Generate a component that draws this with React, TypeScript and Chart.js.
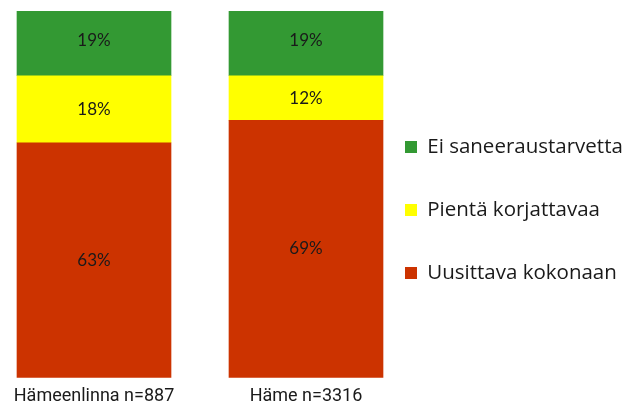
import React, { useEffect, useRef } from "react";
import { Chart, registerables } from "chart.js";

Chart.register(...registerables);

const categories = ["Hämeenlinna n=887", "Häme n=3316"];
const seriesNames = ["Uusittava kokonaan", "Pientä korjattavaa", "Ei saneeraustarvetta"];
const uusittava = [63, 69];
const pienta = [18, 12];
const eiSaneeraus = [19, 19];
const seriesColors = ["#CC3300", "#FFFF00", "#339933"];

const LEGEND_FONT = { family: "Open Sans", size: 20.5 };
const LEGEND_PAD = 42.5;
const LEGEND_BOX = 12;

const dataLabelPlugin = {
  id: "segmentLabels",
  afterDatasetsDraw(chart: any) {
    const ctx = chart.ctx;
    ctx.save();
    ctx.font = "17px Lato";
    ctx.fillStyle = "#1a1a1a";
    ctx.textAlign = "center";
    ctx.textBaseline = "middle";
    chart.data.datasets.forEach((ds: any, di: number) => {
      const meta = chart.getDatasetMeta(di);
      meta.data.forEach((el: any, i: number) => {
        const { x, y, base } = el.getProps(["x", "y", "base"], true);
        ctx.fillText(`${ds.data[i].y}%`, x, (y + base) / 2);
      });
    });
    ctx.restore();
  },
};

export default function App() {
  const ref = useRef<HTMLCanvasElement>(null);
  useEffect(() => {
    document.body.style.margin = "0";
    const canvas = ref.current as HTMLCanvasElement;
    const mctx = canvas.getContext("2d") as CanvasRenderingContext2D;
    mctx.font = `${LEGEND_FONT.size}px ${LEGEND_FONT.family}`;
    const textW = Math.max(...seriesNames.map((n) => mctx.measureText(n).width));
    const legendW = LEGEND_PAD + LEGEND_BOX + LEGEND_FONT.size / 2 + textW + 10;
    const legendLeft = 362.5;
    const padRight = 638 - legendLeft - legendW;

    const values = [uusittava, pienta, eiSaneeraus];
    const chart = new Chart(canvas, {
      type: "bar",
      data: {
        datasets: seriesNames.map((name, s) => ({
          label: name,
          data: values[s].map((v, i) => ({ x: i, y: v })),
          backgroundColor: seriesColors[s],
          borderWidth: 0,
          barThickness: 154,
          clip: { left: false, right: false, top: -6, bottom: false },
        })),
      },
      options: {
        animation: false,
        responsive: false,
        devicePixelRatio: 1,
        layout: { padding: { top: 5, bottom: -5.1, left: 0, right: padRight } },
        scales: {
          x: {
            type: "linear",
            stacked: true,
            offset: false,
            bounds: "data",
            min: -0.4434,
            max: 1.2665,
            afterBuildTicks: (scale: any) => {
              scale.ticks = categories.map((_, i) => ({ value: i }));
            },
            grid: { display: false, drawTicks: false, offset: false },
            border: { display: false },
            ticks: {
              autoSkip: false,
              maxRotation: 0,
              padding: 8.1,
              color: "#1a1a1a",
              font: { family: "Roboto", size: 18 },
              callback: (value: any) => categories[value as number] ?? "",
            },
          },
          y: {
            stacked: true,
            display: false,
            min: 0,
            max: 100,
          },
        },
        plugins: {
          tooltip: { enabled: false },
          legend: {
            position: "right",
            reverse: true,
            labels: {
              boxWidth: LEGEND_BOX,
              boxHeight: LEGEND_BOX,
              padding: LEGEND_PAD,
              color: "#1a1a1a",
              font: LEGEND_FONT,
            },
          },
        },
      },
      plugins: [dataLabelPlugin],
    } as any);
    return () => chart.destroy();
  }, []);
  return <canvas ref={ref} width={638} height={410} style={{ display: "block" }} />;
}
